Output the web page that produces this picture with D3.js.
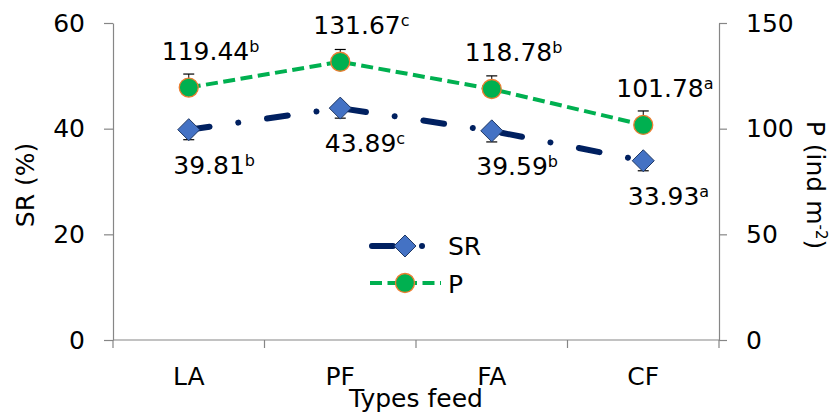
<!DOCTYPE html>
<html>
<head>
<meta charset="utf-8">
<script src="https://cdn.jsdelivr.net/npm/d3@7"></script>
<style>
  html, body { margin: 0; padding: 0; background: #fff; }
  svg { display: block; font-family: "DejaVu Sans", Verdana, sans-serif; }
</style>
</head>
<body>
<svg id="chart" width="831" height="416"></svg>
<script>
// ---- data ----
const categories = ["LA", "PF", "FA", "CF"];
const srValues = [39.81, 43.89, 39.59, 33.93];
const srLetters = ["b", "c", "b", "a"];
const srErrors = [1.9, 1.9, 2.1, 1.9];
const pValues = [119.44, 131.67, 118.78, 101.78];
const pLetters = ["b", "c", "b", "a"];
const pErrors = [6.4, 5.8, 6.2, 6.6];
const leftTicks = [0, 20, 40, 60];
const rightTicks = [0, 50, 100, 150];

// ---- layout ----
const svg = d3.select("#chart");
const plot = { left: 113, right: 719, top: 23, bottom: 340 };
const axisColor = "#868686";
const srColor = "#002060";
const pColor = "#00B050";
const fontSize = 25;

const x = d3.scaleBand().domain(categories).range([plot.left, plot.right]).padding(0);
const cx = d => x(d) + x.bandwidth() / 2;
const yL = d3.scaleLinear().domain([0, 60]).range([plot.bottom, plot.top]);
const yR = d3.scaleLinear().domain([0, 150]).range([plot.bottom, plot.top]);

// left axis
const gL = svg.append("g").attr("transform", `translate(${plot.left},0)`)
  .call(d3.axisLeft(yL).tickValues(leftTicks).tickSize(9).tickPadding(19).tickSizeOuter(0));
// right axis
const gR = svg.append("g").attr("transform", `translate(${plot.right},0)`)
  .call(d3.axisRight(yR).tickValues(rightTicks).tickSize(8).tickPadding(19).tickSizeOuter(0));
[gL, gR].forEach(g => {
  g.select(".domain").attr("stroke", axisColor).attr("stroke-width", 1.2);
  g.selectAll(".tick line").attr("stroke", axisColor).attr("stroke-width", 1.2);
  g.selectAll(".tick text").attr("fill", "#000").style("font-size", fontSize + "px")
    .style("font-family", '"DejaVu Sans", Verdana, sans-serif');
});

// bottom axis (category boundaries as ticks)
const gB = svg.append("g");
gB.append("line").attr("x1", plot.left).attr("x2", plot.right)
  .attr("y1", plot.bottom).attr("y2", plot.bottom)
  .attr("stroke", axisColor).attr("stroke-width", 1.2);
const boundaries = categories.map(c => x(c)).concat([x(categories[categories.length - 1]) + x.bandwidth()]);
gB.selectAll("line.bt").data(boundaries).join("line").attr("class", "bt")
  .attr("x1", d => d).attr("x2", d => d)
  .attr("y1", plot.bottom).attr("y2", plot.bottom + 8)
  .attr("stroke", axisColor).attr("stroke-width", 1.2);
gB.selectAll("text").data(categories).join("text")
  .attr("x", d => cx(d)).attr("y", 385)
  .attr("text-anchor", "middle").style("font-size", fontSize + "px").text(d => d);

// axis titles
svg.append("text").attr("transform", "translate(34,185) rotate(-90)")
  .attr("text-anchor", "middle").style("font-size", fontSize + "px").text("SR (%)");
const rt = svg.append("text").attr("transform", "translate(807,185) rotate(90)")
  .attr("text-anchor", "middle").style("font-size", fontSize + "px");
rt.append("tspan").text("P (ind m");
rt.append("tspan").attr("dy", -9).style("font-size", "15px").text("-2");
rt.append("tspan").attr("dy", 9).text(")");
svg.append("text").attr("x", 416).attr("y", 407)
  .attr("text-anchor", "middle").style("font-size", fontSize + "px").text("Types feed");

// ---- series ----
const srDash = "21,29,0.01,29";
const pDash = "12,5.5";

const srPts = categories.map((c, i) => [cx(c), yL(srValues[i])]);
const pPts = categories.map((c, i) => [cx(c), yR(pValues[i])]);
const line = d3.line();

svg.append("path").attr("d", line(srPts)).attr("fill", "none")
  .attr("stroke", srColor).attr("stroke-width", 6).attr("stroke-linecap", "round")
  .attr("stroke-linejoin", "round").attr("stroke-dasharray", srDash);
svg.append("path").attr("d", line(pPts)).attr("fill", "none")
  .attr("stroke", pColor).attr("stroke-width", 4).attr("stroke-dasharray", pDash);

// error bars
function errBar(g, px, y1, y2) {
  g.append("line").attr("x1", px).attr("x2", px).attr("y1", y1).attr("y2", y2)
    .attr("stroke", "#000").attr("stroke-width", 1);
  g.append("line").attr("x1", px - 5.5).attr("x2", px + 5.5).attr("y1", y2).attr("y2", y2)
    .attr("stroke", "#000").attr("stroke-width", 1.2);
}
const gE = svg.append("g");
categories.forEach((c, i) => {
  errBar(gE, cx(c), yR(pValues[i]), yR(pValues[i] + pErrors[i]));
  errBar(gE, cx(c), yL(srValues[i]), yL(srValues[i] - srErrors[i]));
});

// markers
function diamond(g, px, py) {
  const h = 11;
  g.append("path").attr("d", `M${px},${py - h}L${px + h},${py}L${px},${py + h}L${px - h},${py}Z`)
    .attr("fill", "#4472C4").attr("stroke", "#1F3864").attr("stroke-width", 1);
}
function dot(g, px, py) {
  g.append("circle").attr("cx", px).attr("cy", py).attr("r", 9.5)
    .attr("fill", pColor).attr("stroke", "#ED7D31").attr("stroke-width", 1.3);
}
const gM = svg.append("g");
srPts.forEach(p => diamond(gM, p[0], p[1]));
pPts.forEach(p => dot(gM, p[0], p[1]));

// data labels
function label(g, px, py, val, letter) {
  const t = g.append("text").attr("x", px).attr("y", py).style("font-size", fontSize + "px");
  t.append("tspan").text(val.toFixed(2));
  t.append("tspan").attr("dy", -8).style("font-size", "16px").text(letter);
}
const gT = svg.append("g");
categories.forEach((c, i) => {
  label(gT, cx(c) - 27, yR(pValues[i]) - 28, pValues[i], pLetters[i]);
  label(gT, cx(c) - 15.5, yL(srValues[i]) + 44, srValues[i], srLetters[i]);
});

// legend
const gLeg = svg.append("g");
gLeg.append("path").attr("d", line([[372, 246], [441, 246]])).attr("fill", "none")
  .attr("stroke", srColor).attr("stroke-width", 6).attr("stroke-linecap", "round")
  .attr("stroke-dasharray", srDash);
diamond(gLeg, 405, 246);
gLeg.append("text").attr("x", 448).attr("y", 255).style("font-size", fontSize + "px").text("SR");
gLeg.append("path").attr("d", line([[370, 283], [441, 283]])).attr("fill", "none")
  .attr("stroke", pColor).attr("stroke-width", 4).attr("stroke-dasharray", pDash);
dot(gLeg, 405, 283);
gLeg.append("text").attr("x", 448).attr("y", 292.5).style("font-size", fontSize + "px").text("P");
</script>
</body>
</html>
